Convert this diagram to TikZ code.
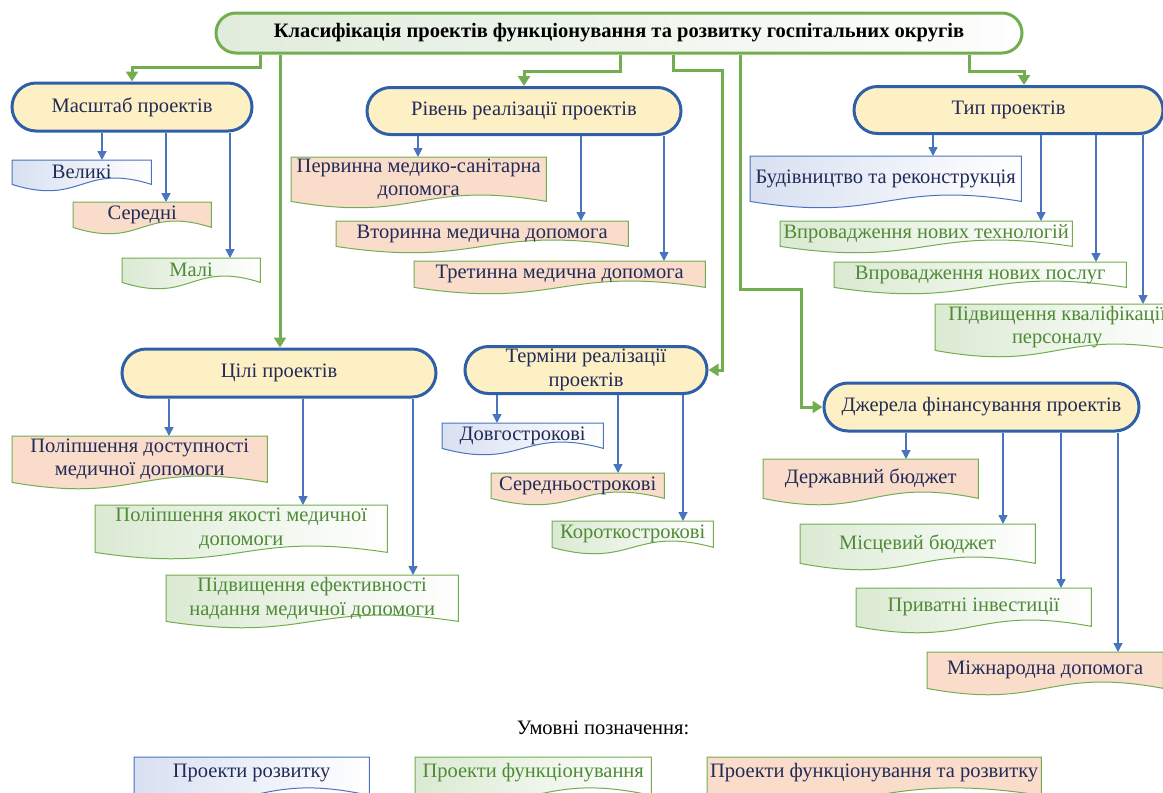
\documentclass[tikz,border=0pt]{standalone}
\usepackage{fontspec}
\setmainfont{Liberation Serif}
\usetikzlibrary{shapes.misc,arrows.meta,backgrounds,calc}

\definecolor{catblue}{HTML}{2F5FA8}
\definecolor{catfill}{HTML}{FDF0C4}
\definecolor{itblue}{HTML}{4A74BE}
\definecolor{itgreen}{HTML}{72AE50}
\definecolor{orfill}{HTML}{F9DCCA}
\definecolor{blfill}{HTML}{D8E0F1}
\definecolor{grfill}{HTML}{DBEAD3}
\definecolor{navytxt}{HTML}{222B57}
\definecolor{greentxt}{HTML}{4F8A36}
\definecolor{titlefill}{HTML}{E0ECDC}

\tikzset{
  basefont/.style={font=\fontsize{20.5}{23.5}\selectfont},
  cat/.style={rounded rectangle, draw=catblue, line width=3pt, fill=catfill,
    text=navytxt, basefont, align=center, inner sep=0pt},
  item/.style={anchor=north west, inner sep=0pt, align=center, basefont},
  dev/.style={item, text=navytxt},
  fun/.style={item, text=greentxt},
  both/.style={item, text=navytxt},
  devshape/.style={draw=itblue, line width=1pt, left color=blfill, right color=white},
  funshape/.style={draw=itgreen, line width=1pt, left color=grfill, right color=white},
  bothshape/.style={draw=itgreen, line width=1pt, fill=orfill},
  garr/.style={draw=itgreen, line width=3pt, -{Triangle[length=10pt,width=12pt]}},
  barr/.style={draw=itblue, line width=1.4pt, -{Triangle[length=9pt,width=9pt]}},
}

% document shape with a wavy bottom edge (#4 = extra drop of the sides)
\newcommand\wave[4][0]{%
  \path[#3] (#2.north west) -- (#2.north east) -- ($(#2.south east)+(0,#1)$)
    .. controls ($(#2.south)+(0,#1-#4)$) and ($(#2.south)+(0,#1+#4)$) .. ($(#2.south west)+(0,#1)$) -- cycle;}

\begin{document}
\begin{tikzpicture}[x=1pt,y=-1pt]
\useasboundingbox (0,0) rectangle (1163,793);
\clip (0,0) rectangle (1163,793);

\node[rounded rectangle, draw=itgreen, line width=3pt, left color=titlefill, right color=white!95!titlefill,
  minimum width=806, minimum height=40, inner sep=0pt, font=\fontsize{20.5}{23.5}\selectfont\bfseries]
  (title) at (619,33) {Класифікація проектів функціонування та розвитку госпітальних округів};

% categories
\node[cat, minimum width=240, minimum height=48] (mas) at (132,107) {Масштаб проектів};
\node[cat, minimum width=314, minimum height=47] (riv) at (524,111) {Рівень реалізації проектів};
\node[cat, minimum width=309, minimum height=47] (typ) at (1008.5,110) {Тип проектів};
\node[cat, minimum width=314, minimum height=48] (cil) at (279,373) {Цілі проектів};
\node[cat, minimum width=242, minimum height=47] (ter) at (586,370) {Терміни реалізації\\проектів};
\node[cat, minimum width=315, minimum height=48] (dzh) at (981.5,407) {Джерела фінансування проектів};

% масштаб
\node[dev, minimum width=139, minimum height=24] (vel) at (12,160) {Великі};
\node[both, minimum width=138, minimum height=25] (ser) at (73,202) {Середні};
\node[fun, minimum width=138, minimum height=24] (mal) at (122,258) {Малі};
% рівень
\node[both, minimum width=255, minimum height=44] (perv) at (291,157) {Первинна медико-санітарна\\допомога};
\node[both, minimum width=292, minimum height=25] (vtor) at (336,221) {Вторинна медична допомога};
\node[both, minimum width=291, minimum height=26] (tret) at (414,261) {Третинна медична допомога};
% тип
\node[dev, minimum width=271, minimum height=45] (bud) at (750,156) {Будівництво та реконструкція};
\node[fun, minimum width=292, minimum height=25] (tekh) at (780,221) {Впровадження нових технологій};
\node[fun, minimum width=292, minimum height=25] (posl) at (834,262) {Впровадження нових послуг};
\node[fun, minimum width=244, minimum height=46] (kval) at (935,304) {Підвищення кваліфікації\\персоналу};
% цілі
\node[both, minimum width=255, minimum height=46] (dost) at (12,436) {Поліпшення доступності\\медичної допомоги};
\node[fun, minimum width=292, minimum height=47] (yak) at (95,505) {Поліпшення якості медичної\\допомоги};
\node[fun, minimum width=292, minimum height=46] (efek) at (166,575) {Підвищення ефективності\\надання медичної допомоги};
% терміни
\node[dev, minimum width=161, minimum height=25] (dovh) at (442,423) {Довгострокові};
\node[both, minimum width=173, minimum height=25] (sere) at (491,473) {Середньострокові};
\node[fun, minimum width=161, minimum height=26] (kor) at (552,521) {Короткострокові};
% джерела
\node[both, minimum width=215, minimum height=39] (derzh) at (763,459) {Державний бюджет};
\node[fun, minimum width=235, minimum height=39] (misc) at (800,524) {Місцевий бюджет};
\node[fun, minimum width=235, minimum height=38] (pryv) at (856,588) {Приватні інвестиції};
\node[both, minimum width=236, minimum height=36] (mizh) at (927,652) {Міжнародна допомога};

% legend
\node[basefont] (legtitle) at (603,728) {Умовні позначення:};
\node[dev, minimum width=235, minimum height=31] (legdev) at (134,757) {Проекти розвитку};
\node[fun, minimum width=236, minimum height=31] (legfun) at (415,757) {Проекти функціонування};
\node[both, minimum width=334, minimum height=31] (legboth) at (707,757) {Проекти функціонування та розвитку};

\begin{scope}[on background layer]
\foreach \n/\s in {vel/dev,ser/both,mal/fun,perv/both,vtor/both,tret/both,
    bud/dev,tekh/fun,posl/fun,kval/fun,dost/both,yak/fun,efek/fun,
    dovh/dev,sere/both,kor/fun,derzh/both,misc/fun,pryv/fun,mizh/both}
  \wave{\n}{\s shape}{22};
\foreach \n/\s in {legdev/dev,legfun/fun,legboth/both}
  \wave[7]{\n}{\s shape}{26};
\end{scope}

% green connectors
\draw[garr] (title.south -| 260,0) -- (260,67) -| (mas.north);
\draw[garr] (title.south -| 280,0) -- (cil.north -| 280,0);
\draw[garr] (title.south -| 620,0) -- (620,71) -| (riv.north);
\draw[garr] (title.south -| 673,0) -- (673,70) -| (722,370) -- (ter.east);
\draw[garr] (title.south -| 740,0) -- (740,289) -| (801,407) -- (dzh.west);
\draw[garr] (title.south -| 969,0) -- (969,71) -| (typ.north -| 1024,0);

% blue connectors
\foreach \c/\x/\t in {mas/102/vel,mas/166/ser,mas/230/mal,
    riv/418/perv,riv/581/vtor,riv/664/tret,
    typ/933/bud,typ/1041/tekh,typ/1096/posl,typ/1143/kval,
    cil/169/dost,cil/303/yak,cil/413/efek,
    ter/497/dovh,ter/618/sere,ter/683/kor,
    dzh/906/derzh,dzh/1003/misc,dzh/1061/pryv,dzh/1118/mizh}
  \draw[barr] (\c.south -| \x,0) -- (\t.north -| \x,0);

\end{tikzpicture}
\end{document}
